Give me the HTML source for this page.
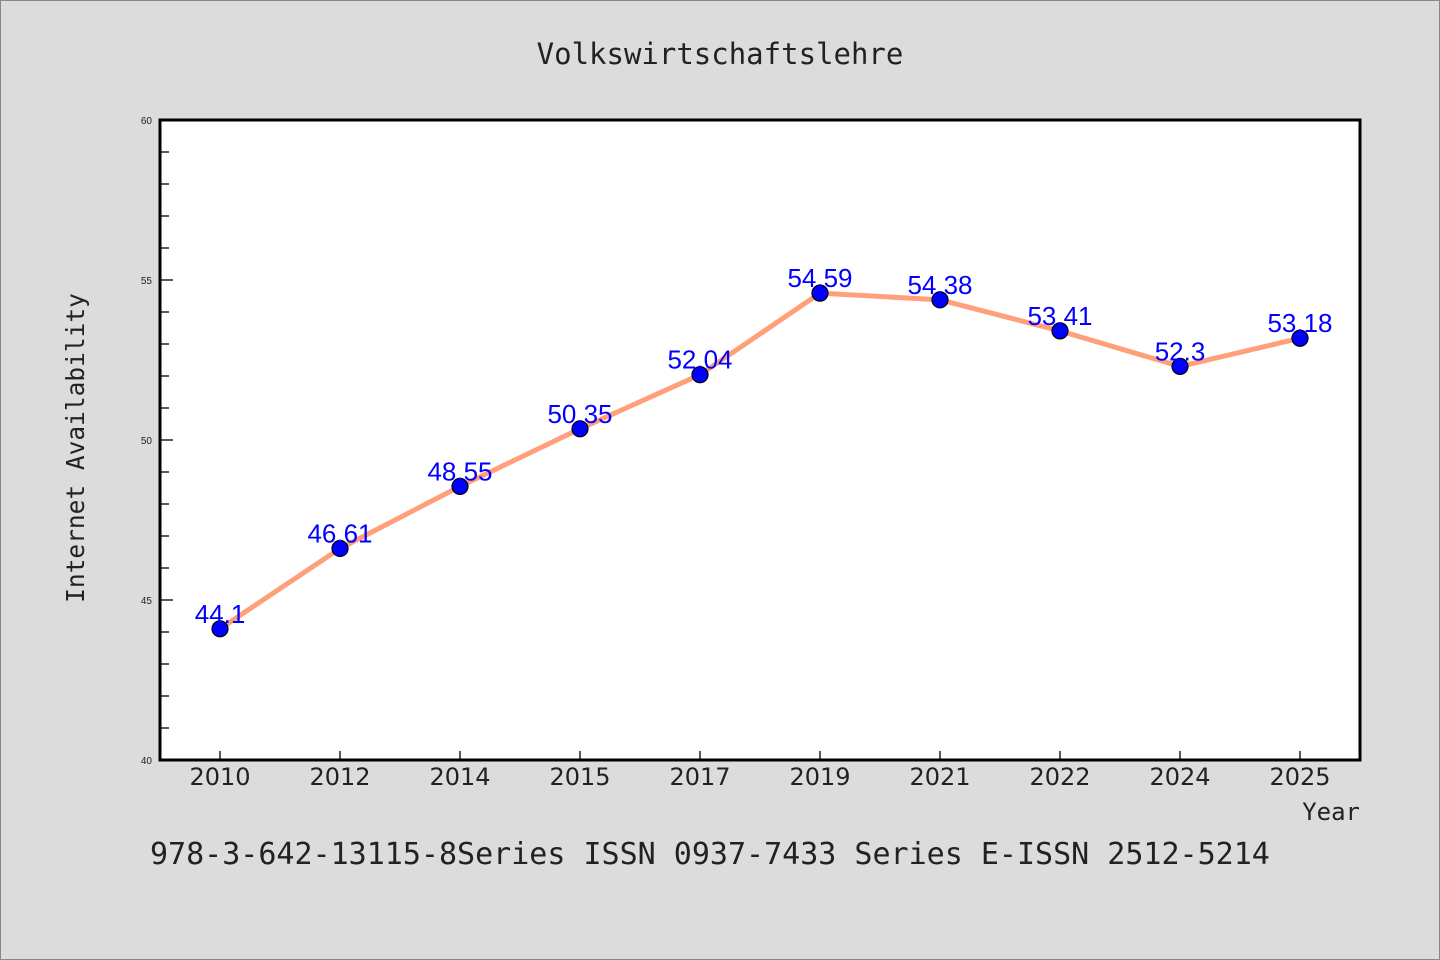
<!DOCTYPE html>
<html><head><meta charset="utf-8"><style>
body{margin:0;background:#dcdcdc;}
svg{display:block;}
.mono{font-family:"DejaVu Sans Mono","Liberation Mono",monospace;fill:#222;}
</style></head><body>
<svg width="1440" height="960" xmlns="http://www.w3.org/2000/svg">
<rect x="0.5" y="0.5" width="1439" height="959" fill="#dcdcdc" stroke="#888"/>
<text class="mono" x="720" y="64" font-size="29" text-anchor="middle">Volkswirtschaftslehre</text>
<rect x="160" y="120" width="1200" height="640" fill="#fff" stroke="#000" stroke-width="3"/>
<g id="axes"></g>
<path id="line" fill="none" stroke="#FFA07A" stroke-width="5" stroke-linejoin="round"/>
<g id="marks"></g>
<text class="mono" font-size="24.5" text-anchor="middle" transform="translate(84,448) rotate(-90)">Internet Availability</text>
<text class="mono" x="1360" y="820" font-size="24" text-anchor="end">Year</text>
<text class="mono" x="150" y="864" font-size="30">978-3-642-13115-8Series ISSN 0937-7433 Series E-ISSN 2512-5214</text>
</svg>
<script>
const categories=["2010","2012","2014","2015","2017","2019","2021","2022","2024","2025"];
const values=[44.1,46.61,48.55,50.35,52.04,54.59,54.38,53.41,52.3,53.18];
const valueLabels=["44.1","46.61","48.55","50.35","52.04","54.59","54.38","53.41","52.3","53.18"];
const yTicks=[40,45,50,55,60];
const yMin=40,yMax=60;
const NS="http://www.w3.org/2000/svg";
const x=i=>220+i*120;
const y=v=>760-(v-yMin)/(yMax-yMin)*640;
function mk(t,a,p){const e=document.createElementNS(NS,t);for(const k in a)e.setAttribute(k,a[k]);p.appendChild(e);return e;}
const axes=document.getElementById('axes');
for(let v=yMin+1;v<yMax;v++){
 const major=yTicks.includes(v);
 const l=mk('line',{x1:160,x2:major?173:169,y1:y(v),y2:y(v),stroke:'#000','stroke-width':1.3},axes);
 
 
}
yTicks.forEach(v=>{
 const t=mk('text',{x:152,y:y(v)+4,'font-size':10,'text-anchor':'end','font-family':'Liberation Sans, sans-serif',fill:'#222'},axes);
 t.textContent=v;
 
 
});
categories.forEach((c,i)=>{
 const l=mk('line',{x1:x(i),x2:x(i),y1:760,y2:751,stroke:'#000','stroke-width':1.3},axes);
 
 
 const t=mk('text',{x:x(i),y:785,'font-size':24,'text-anchor':'middle','font-family':'DejaVu Sans, sans-serif',fill:'#222'},axes);
 t.textContent=c;
 
 
});
document.getElementById('line').setAttribute('d',values.map((v,i)=>(i?'L':'M')+x(i)+','+y(v)).join(' '));
const marks=document.getElementById('marks');
values.forEach((v,i)=>{
 const c=mk('circle',{cx:x(i),cy:y(v),r:8,fill:'#0000ff',stroke:'#000','stroke-width':1.2},marks);
 
 
 const t=mk('text',{x:x(i),y:y(v)-6,'font-size':26,'text-anchor':'middle','font-family':'Liberation Sans, sans-serif',fill:'#0000ff'},marks);
 t.textContent=valueLabels[i];
 
 
});
</script>
</body></html>
